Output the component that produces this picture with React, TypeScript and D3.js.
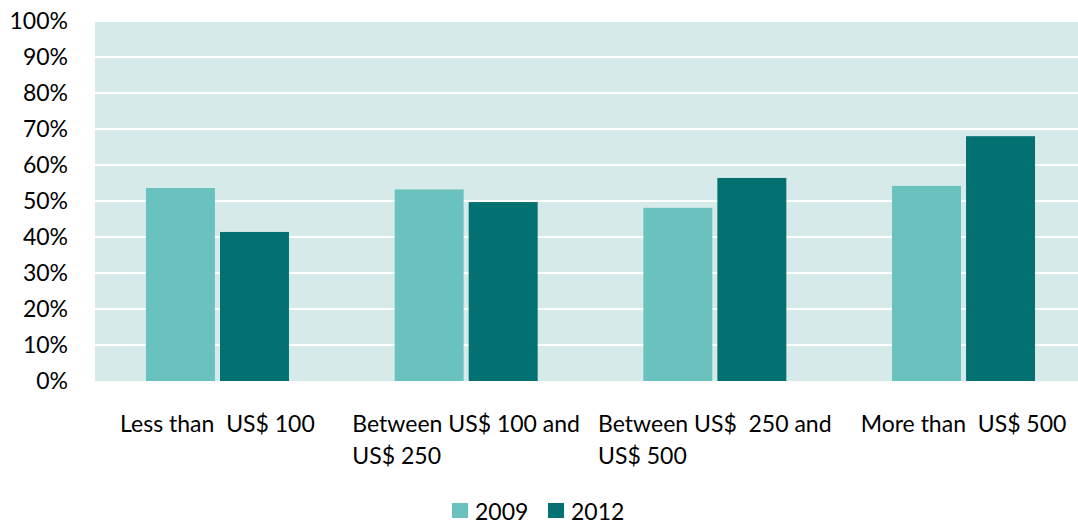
import React, { useEffect, useRef } from "react";
import * as d3 from "d3";

const categories = [
  ["Less than  US$ 100"],
  ["Between US$ 100 and", "US$ 250"],
  ["Between US$  250 and", "US$ 500"],
  ["More than  US$ 500"],
];
const series = ["2009", "2012"];
const values2009 = [0.536, 0.532, 0.481, 0.542];
const values2012 = [0.414, 0.497, 0.564, 0.68];
const yTicks = [0, 0.1, 0.2, 0.3, 0.4, 0.5, 0.6, 0.7, 0.8, 0.9, 1.0];
const colors = ["#69C2BE", "#037072"];

const W = 1078;
const H = 522;
const FONT = "Lato, 'Open Sans', sans-serif";
const FS = 23;

export default function App() {
  const ref = useRef<SVGSVGElement>(null);
  useEffect(() => {
    const svg = d3.select(ref.current);
    svg.selectAll("*").remove();
    const left = 93, right = 1078, top = 21, bottom = 381;
    const y = d3.scaleLinear().domain([0, 1]).range([bottom, top]);
    const x0 = d3.scaleBand().domain(categories.map((_, i) => String(i))).range([left, 1088]).paddingInner(0.425).paddingOuter(0.213);
    const x1 = d3.scaleBand().domain(series).range([0, x0.bandwidth()]).paddingInner(0.068);

    svg.append("rect").attr("x", left).attr("y", top).attr("width", right - left).attr("height", bottom - top).attr("fill", "#D6EBE9");
    svg.selectAll(".grid").data(yTicks.slice(1)).join("line")
      .attr("x1", left).attr("x2", right).attr("y1", (d) => y(d)).attr("y2", (d) => y(d))
      .attr("stroke", "#fff").attr("stroke-width", 2);
    svg.append("line").attr("x1", left + 1).attr("x2", left + 1).attr("y1", top).attr("y2", bottom).attr("stroke", "#fff").attr("stroke-width", 2);

    svg.selectAll(".ytick").data(yTicks).join("text")
      .attr("x", 68).attr("y", (d) => y(d)).attr("dy", "0.35em")
      .attr("text-anchor", "end").attr("font-family", FONT).attr("font-size", FS).attr("fill", "#000")
      .text((d) => d3.format(".0%")(d));

    const data = [values2009, values2012];
    categories.forEach((_, i) => {
      series.forEach((s, j) => {
        const v = data[j][i];
        svg.append("rect")
          .attr("x", x0(String(i))! + x1(s)!)
          .attr("width", x1.bandwidth())
          .attr("y", y(v)).attr("height", y(0) - y(v))
          .attr("fill", colors[j]);
      });
    });

    categories.forEach((lines, i) => {
      const cx = x0(String(i))! + x0.bandwidth() / 2;
      const t = svg.append("text").attr("font-family", FONT).attr("font-size", FS).attr("fill", "#000")
        .style("white-space", "pre");
      const first = t.append("tspan").attr("x", cx).attr("y", 432).attr("text-anchor", "middle").text(lines[0]);
      if (lines.length > 1) {
        const w = (first.node() as SVGTextContentElement).getComputedTextLength();
        t.append("tspan").attr("x", cx - w / 2).attr("y", 464).attr("text-anchor", "start").text(lines[1]);
      }
    });

    const legX = [452, 548];
    series.forEach((s, j) => {
      svg.append("rect").attr("x", legX[j]).attr("y", 503).attr("width", 16).attr("height", 15).attr("fill", colors[j]);
      svg.append("text").attr("x", legX[j] + 23).attr("y", 512).attr("dy", "0.35em")
        .attr("font-family", FONT).attr("font-size", FS).attr("fill", "#000").text(s);
    });
  }, []);
  return (
    <svg ref={ref} width={W} height={H} style={{ position: "absolute", left: 0, top: 0, background: "#fff" }} />
  );
}
